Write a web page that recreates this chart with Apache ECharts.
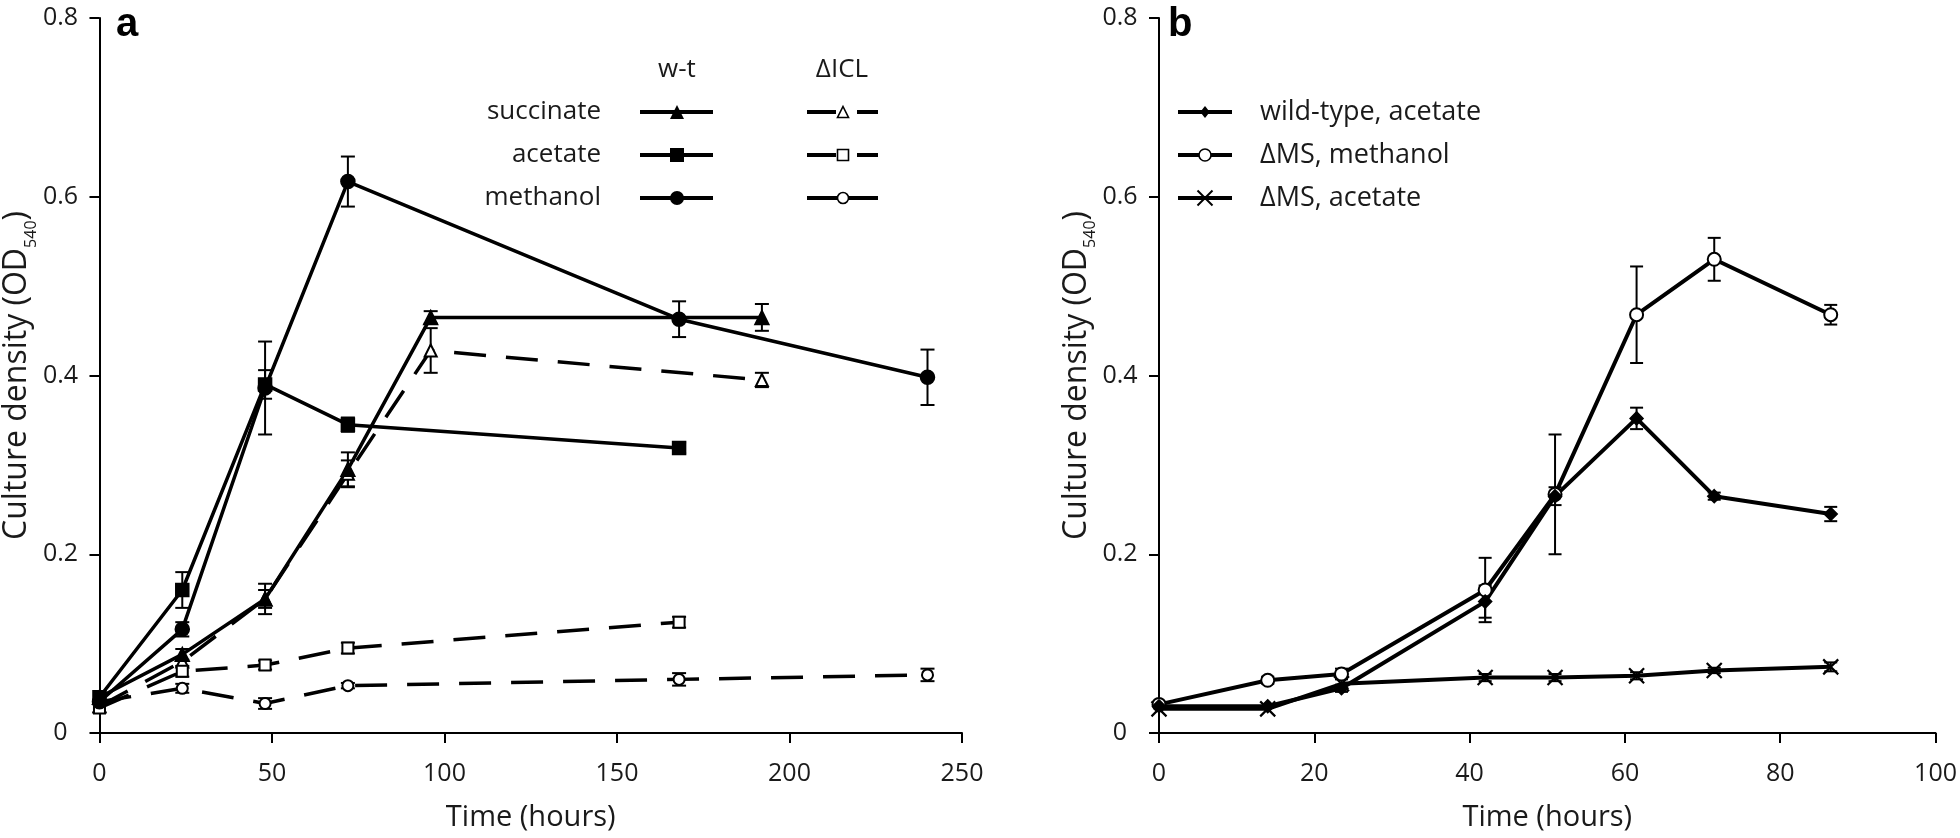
<!DOCTYPE html>
<html>
<head>
<meta charset="utf-8">
<script src="https://cdn.jsdelivr.net/npm/echarts@6/dist/echarts.min.js"></script>
<style>
  html, body { margin: 0; padding: 0; background: #fff; }
  #main { width: 1960px; height: 838px; }
</style>
</head>
<body>
<div id="main"></div>
<script>
// ---- panel a : wild-type vs ΔICL, OD540 over time (hours)
const timeSuccA = [0, 24, 48, 72, 96, 192];
const timeAcetA = [0, 24, 48, 72, 168];
const timeMethA = [0, 24, 48, 72, 168, 240];

const wtSuccinate     = [0.040, 0.088, 0.150, 0.295, 0.465, 0.465];
const wtSuccinateErr  = [0, 0.006, 0.017, 0.019, 0.007, 0.015];
const wtAcetate       = [0.040, 0.160, 0.390, 0.345, 0.319];
const wtAcetateErr    = [0, 0.020, 0.016, 0.008, 0.006];
const wtMethanol      = [0.035, 0.116, 0.386, 0.617, 0.463, 0.398];
const wtMethanolErr   = [0, 0.008, 0.052, 0.028, 0.020, 0.031];
const iclSuccinate    = [0.030, 0.080, 0.150, 0.290, 0.428, 0.395];
const iclSuccinateErr = [0, 0, 0.010, 0.015, 0.025, 0.008];
const iclAcetate      = [0.028, 0.069, 0.076, 0.095, 0.124];
const iclAcetateErr   = [0.005, 0.006, 0.005, 0.006, 0.006];
const iclMethanol     = [0.035, 0.050, 0.033, 0.053, 0.060, 0.065];
const iclMethanolErr  = [0, 0.005, 0.006, 0.003, 0.007, 0.007];

// ---- panel b : wild-type vs ΔMS
const timeB         = [0, 14, 23.5, 42, 51, 61.5, 71.5, 86.5];
const wtAcetateB    = [0.030, 0.030, 0.050, 0.147, 0.265, 0.352, 0.265, 0.245];
const wtAcetateBErr = [0, 0, 0.004, 0.018, 0.010, 0.012, 0.004, 0.008];
const msMethanol    = [0.032, 0.059, 0.066, 0.160, 0.267, 0.468, 0.530, 0.468];
const msMethanolErr = [0, 0.004, 0.006, 0.036, 0.067, 0.054, 0.024, 0.011];
const msAcetate     = [0.027, 0.027, 0.055, 0.062, 0.062, 0.064, 0.070, 0.074];
const msAcetateErr  = [0, 0, 0, 0.004, 0.004, 0.004, 0.003, 0.005];

// ---- axes
const yTicks  = [0, 0.2, 0.4, 0.6, 0.8];
const xTicksA = [0, 50, 100, 150, 200, 250];
const xTicksB = [0, 20, 40, 60, 80, 100];

const legendRowsA = ['succinate', 'acetate', 'methanol'];
const legendRowsB = ['wild-type, acetate', 'ΔMS, methanol', 'ΔMS, acetate'];

const FONT = '"Open Sans", "Liberation Sans", sans-serif';
const TXT = '#1a1a1a';
const CROSS = 'path://M0,0L10,10M10,0L0,10';

const chart = echarts.init(document.getElementById('main'));

function lineSeries(grid, times, vals, symbol, size, dashed, width) {
  return {
    type: 'line', xAxisIndex: grid, yAxisIndex: grid, z: 3,
    data: times.map((t, i) => [t, vals[i]]),
    symbol: symbol, symbolSize: size, showAllSymbol: true,
    lineStyle: { color: '#000', width: width, type: dashed ? [32, 20] : 'solid' },
    itemStyle: { color: '#000', borderColor: '#000', borderWidth: symbol === CROSS ? 2.2 : 1.5 },
    emphasis: { disabled: true }, animation: false
  };
}

function errorSeries(grid, times, vals, errs, cap) {
  const data = [];
  times.forEach((t, i) => {
    if (errs[i] > 0) data.push([t, vals[i] - errs[i], vals[i] + errs[i]]);
  });
  return {
    type: 'custom', xAxisIndex: grid, yAxisIndex: grid, z: 2, silent: true, animation: false,
    data: data,
    renderItem: (params, api) => {
      const top = api.coord([api.value(0), api.value(2)]);
      const bot = api.coord([api.value(0), api.value(1)]);
      const st = { stroke: '#000', lineWidth: 2 };
      return {
        type: 'group',
        children: [
          { type: 'line', shape: { x1: top[0], y1: top[1], x2: bot[0], y2: bot[1] }, style: st },
          { type: 'line', shape: { x1: top[0] - cap, y1: top[1], x2: top[0] + cap, y2: top[1] }, style: st },
          { type: 'line', shape: { x1: bot[0] - cap, y1: bot[1], x2: bot[0] + cap, y2: bot[1] }, style: st }
        ]
      };
    }
  };
}

function makeX(grid, ticks) {
  return {
    type: 'value', gridIndex: grid,
    min: ticks[0], max: ticks[ticks.length - 1], interval: ticks[1] - ticks[0],
    name: 'Time (hours)', nameLocation: 'middle', nameGap: 70,
    nameTextStyle: { fontSize: 29, fontFamily: FONT, color: TXT },
    axisLine: { lineStyle: { color: '#000', width: 2 } },
    axisTick: { length: 10, lineStyle: { color: '#000', width: 2 } },
    axisLabel: { fontSize: 25, fontFamily: FONT, color: TXT, margin: 28 },
    splitLine: { show: false }
  };
}

function makeY(grid, gap) {
  return {
    type: 'value', gridIndex: grid,
    min: yTicks[0], max: yTicks[yTicks.length - 1], interval: yTicks[1] - yTicks[0],
    name: '{t|Culture density (OD}{s|540}{t|)}',
    nameLocation: 'middle', nameGap: gap,
    nameTextStyle: {
      rich: {
        t: { fontSize: 32, lineHeight: 32, fontFamily: FONT, color: TXT, verticalAlign: 'top' },
        s: { fontSize: 16, lineHeight: 16, fontFamily: FONT, color: TXT, verticalAlign: 'top', padding: [22, 0, 0, 0] }
      }
    },
    axisLine: { show: true, lineStyle: { color: '#000', width: 2 } },
    axisTick: { show: true, length: 10, lineStyle: { color: '#000', width: 2 } },
    axisLabel: {
      fontSize: 25, fontFamily: FONT, color: TXT, margin: 39, align: 'center',
      formatter: v => (v === 0 ? '0' : v.toFixed(1))
    },
    splitLine: { show: false }
  };
}

// ---- hand-drawn legend glyphs
function marker(shape, cx, cy, s, filled) {
  const style = { fill: filled ? '#000' : '#fff', stroke: '#000', lineWidth: filled ? 0 : 1.6 };
  const h = s / 2;
  if (shape === 'triangle')
    return { type: 'polygon', shape: { points: [[cx, cy - h], [cx + h, cy + h], [cx - h, cy + h]] }, style };
  if (shape === 'rect')
    return { type: 'rect', shape: { x: cx - h, y: cy - h, width: s, height: s }, style };
  if (shape === 'diamond')
    return { type: 'polygon', shape: { points: [[cx, cy - h], [cx + h * 0.8, cy], [cx, cy + h], [cx - h * 0.8, cy]] }, style };
  if (shape === 'cross')
    return {
      type: 'group', children: [
        { type: 'line', shape: { x1: cx - h, y1: cy - h, x2: cx + h, y2: cy + h }, style: { stroke: '#000', lineWidth: 2 } },
        { type: 'line', shape: { x1: cx + h, y1: cy - h, x2: cx - h, y2: cy + h }, style: { stroke: '#000', lineWidth: 2 } }
      ]
    };
  return { type: 'circle', shape: { cx, cy, r: h }, style };
}

function seg(x1, x2, y) {
  return { type: 'line', shape: { x1, y1: y, x2, y2: y }, style: { stroke: '#000', lineWidth: 4 } };
}

function label(text, x, y, align, size, weight) {
  return {
    type: 'text', x, y,
    style: {
      text, fill: TXT, align: align, verticalAlign: 'middle',
      font: (weight || 'normal') + ' ' + size + 'px ' + FONT
    }
  };
}

const graphics = [
  { type: 'text', x: 116, y: 25, style: { text: 'a', fill: '#000', verticalAlign: 'middle', font: 'bold 40px "Liberation Sans", Arial' } },
  { type: 'text', x: 1168, y: 25, style: { text: 'b', fill: '#000', verticalAlign: 'middle', font: 'bold 40px "Liberation Sans", Arial' } },
  label('w-t', 677, 70, 'center', 26),
  label('ΔICL', 842, 70, 'center', 26)
];

const rowY = [112, 155, 198];
const shapesA = ['triangle', 'rect', 'circle'];
legendRowsA.forEach((name, i) => {
  const y = rowY[i];
  graphics.push(label(name, 601, y, 'right', 26));
  graphics.push(seg(640, 713, y), marker(shapesA[i], 677, y, 14, true));
  if (i < 2) graphics.push(seg(807, 836, y), seg(857, 878, y));
  else graphics.push(seg(807, 878, y));
  graphics.push(marker(shapesA[i], 843, y, 11, false));
});

const shapesB = [['diamond', true], ['circle', false], ['cross', false]];
legendRowsB.forEach((name, i) => {
  const y = rowY[i];
  graphics.push(seg(1178, 1232, y), marker(shapesB[i][0], 1205, y, i === 2 ? 15 : 12, shapesB[i][1]));
  graphics.push(label(name, 1260, y, 'left', 27));
});

const option = {
  backgroundColor: '#fff',
  animation: false,
  grid: [
    { left: 99, top: 18, width: 863, height: 715 },
    { left: 1159, top: 18, width: 780, height: 715 }
  ],
  xAxis: [makeX(0, xTicksA), makeX(1, xTicksB)],
  yAxis: [makeY(0, 58), makeY(1, 66)],
  graphic: graphics,
  series: [
    errorSeries(0, timeSuccA, wtSuccinate, wtSuccinateErr, 7),
    errorSeries(0, timeAcetA, wtAcetate, wtAcetateErr, 7),
    errorSeries(0, timeMethA, wtMethanol, wtMethanolErr, 7),
    errorSeries(0, timeSuccA, iclSuccinate, iclSuccinateErr, 7),
    errorSeries(0, timeAcetA, iclAcetate, iclAcetateErr, 7),
    errorSeries(0, timeMethA, iclMethanol, iclMethanolErr, 7),
    lineSeries(0, timeSuccA, iclSuccinate, 'emptyTriangle', 12, true, 3.5),
    lineSeries(0, timeAcetA, iclAcetate, 'emptyRect', 11, true, 3.5),
    lineSeries(0, timeMethA, iclMethanol, 'emptyCircle', 11, true, 3.5),
    lineSeries(0, timeSuccA, wtSuccinate, 'triangle', 14, false, 3.5),
    lineSeries(0, timeAcetA, wtAcetate, 'rect', 13, false, 3.5),
    lineSeries(0, timeMethA, wtMethanol, 'circle', 14, false, 3.5),

    errorSeries(1, timeB, wtAcetateB, wtAcetateBErr, 6.5),
    errorSeries(1, timeB, msMethanol, msMethanolErr, 6.5),
    errorSeries(1, timeB, msAcetate, msAcetateErr, 6.5),
    lineSeries(1, timeB, msAcetate, CROSS, 15, false, 4),
    lineSeries(1, timeB, msMethanol, 'emptyCircle', 13, false, 4),
    lineSeries(1, timeB, wtAcetateB, 'diamond', 13, false, 4)
  ]
};

chart.setOption(option);
</script>
</body>
</html>
